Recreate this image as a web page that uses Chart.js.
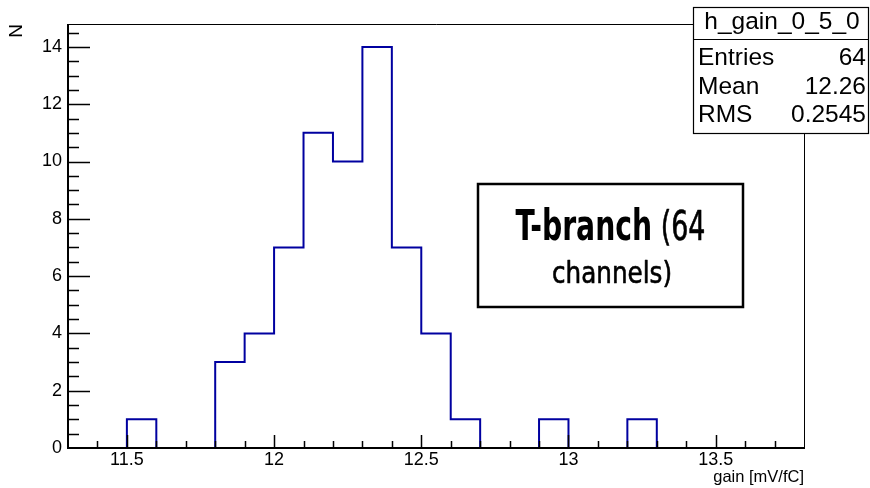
<!DOCTYPE html>
<html>
<head>
<meta charset="utf-8">
<script src="https://cdn.jsdelivr.net/npm/chart.js@4.4.1/dist/chart.umd.min.js"></script>
<style>
  html, body { margin: 0; padding: 0; background: #fff; }
  #wrap { width: 870px; height: 488px; }
</style>
</head>
<body>
<div id="wrap"><canvas id="hist" width="870" height="488"></canvas></div>
<script>
// histogram h_gain_0_5_0 : bin low edges (last one is the upper edge) and counts
var binEdges = [11.3, 11.4, 11.5, 11.6, 11.7, 11.8, 11.9, 12.0, 12.1, 12.2, 12.3, 12.4, 12.5,
                12.6, 12.7, 12.8, 12.9, 13.0, 13.1, 13.2, 13.3, 13.4, 13.5, 13.6, 13.7, 13.8];
var counts   = [0, 0, 1, 0, 0, 3, 4, 7, 11, 10, 14, 7, 4, 1, 0, 0, 1, 0, 0, 1, 0, 0, 0, 0, 0];

var xTicks = [11.5, 12, 12.5, 13, 13.5];
var yTicks = [0, 2, 4, 6, 8, 10, 12, 14];

var statsTitle  = 'h_gain_0_5_0';
var statsLabels = ['Entries', 'Mean', 'RMS'];
var statsValues = ['64', '12.26', '0.2545'];

var noteBold = 'T-branch';
var noteLine1 = ' (64';
var noteLine2 = 'channels)';

var FONT = '"Liberation Sans", Arial, sans-serif';
var NARROW = '"Liberation Sans Narrow", "DejaVu Sans Condensed", "Liberation Sans", sans-serif';
var COND = '"DejaVu Sans Condensed", "DejaVu Sans", sans-serif';

// points for the step outline
var pts = [];
for (var i = 0; i < binEdges.length; i++) {
  pts.push({ x: binEdges[i], y: i < counts.length ? counts[i] : 0 });
}

// ROOT-like frame, inner ticks and the two boxes
var rootPlugin = {
  id: 'rootStyle',
  afterDatasetsDraw: function(chart) {
    var ctx = chart.ctx, a = chart.chartArea;
    var xs = chart.scales.x, ys = chart.scales.y;
    ctx.save();
    ctx.strokeStyle = '#000';

    // minor + major ticks on x
    ctx.lineWidth = 1.5;
    ctx.beginPath();
    for (var k = 1; k < 25; k++) {
      var v = 11.3 + k * 0.1;
      var px = Math.round(xs.getPixelForValue(v)) + 0.5;
      var major = xTicks.some(function(t) { return Math.abs(t - v) < 1e-6; });
      ctx.moveTo(px, a.bottom);
      ctx.lineTo(px, a.bottom - (major ? 13 : 7));
    }
    // y ticks
    for (var m = 1; m < 30; m++) {
      var yv = m * 0.5;
      var py = Math.round(ys.getPixelForValue(yv)) + 0.5;
      var ymaj = (m % 4 === 0);
      ctx.moveTo(a.left, py);
      ctx.lineTo(a.left + (ymaj ? 22 : 11), py);
    }
    ctx.stroke();

    // frame: thin top/right, thick axes
    ctx.lineWidth = 1;
    ctx.beginPath();
    ctx.moveTo(a.left, a.top + 0.5);
    ctx.lineTo(a.right + 0.5, a.top + 0.5);
    ctx.lineTo(a.right + 0.5, a.bottom);
    ctx.stroke();
    ctx.lineWidth = 2;
    ctx.beginPath();
    ctx.moveTo(a.left, a.top);
    ctx.lineTo(a.left, a.bottom);
    ctx.lineTo(a.right + 1, a.bottom);
    ctx.stroke();

    // stats box
    var bx = 693.5, by = 7.5, bw = 175, bh = 126;
    ctx.fillStyle = '#fff';
    ctx.fillRect(bx, by, bw, bh);
    ctx.lineWidth = 1.2;
    ctx.strokeRect(bx, by, bw, bh);
    ctx.beginPath();
    ctx.moveTo(bx, 39.5);
    ctx.lineTo(bx + bw, 39.5);
    ctx.stroke();
    ctx.fillStyle = '#000';
    ctx.font = '24.5px ' + FONT;
    ctx.textBaseline = 'alphabetic';
    ctx.textAlign = 'center';
    ctx.fillText(statsTitle, bx + bw / 2 + 1, 29);
    for (var s = 0; s < statsLabels.length; s++) {
      var by2 = 65 + s * 28.5;
      ctx.textAlign = 'left';
      ctx.fillText(statsLabels[s], 698, by2);
      ctx.textAlign = 'right';
      ctx.fillText(statsValues[s], 866, by2);
    }

    // note box
    ctx.lineWidth = 2.5;
    ctx.fillStyle = '#fff';
    ctx.fillRect(478, 184, 265, 123);
    ctx.strokeRect(478, 184, 265, 123);
    ctx.fillStyle = '#000';
    ctx.textAlign = 'left';
    ctx.lineJoin = 'round';
    var cx = 610.5;
    // line 1 : bold part + regular part, squeezed to width
    ctx.font = 'bold 42px ' + NARROW;
    var wb = ctx.measureText(noteBold).width;
    ctx.font = '40px ' + COND;
    var wr = ctx.measureText(noteLine1).width;
    var sc1 = 190 / (wb + wr);
    ctx.save();
    ctx.translate(cx - 95, 240);
    ctx.scale(sc1, 1);
    ctx.font = 'bold 42px ' + NARROW;
    ctx.fillText(noteBold, 0, 0);
    ctx.font = '40px ' + COND;
    ctx.fillText(noteLine1, wb, 0);
    ctx.lineWidth = 0.6;
    ctx.strokeText(noteLine1, wb, 0);
    ctx.restore();
    // line 2
    ctx.font = '31px ' + COND;
    var w2 = ctx.measureText(noteLine2).width;
    var sc2 = 120 / w2;
    ctx.save();
    ctx.translate(cx + 1.5 - 60, 283);
    ctx.scale(sc2, 1);
    ctx.fillText(noteLine2, 0, 0);
    ctx.lineWidth = 0.6;
    ctx.strokeText(noteLine2, 0, 0);
    ctx.restore();

    ctx.restore();
  }
};

new Chart(document.getElementById('hist'), {
  type: 'line',
  data: {
    datasets: [{
      label: statsTitle,
      data: pts,
      stepped: true,
      borderColor: '#0000a0',
      borderWidth: 2,
      pointRadius: 0,
      fill: false,
      tension: 0
    }]
  },
  options: {
    responsive: false,
    animation: false,
    layout: { padding: { top: 24, right: 66, left: 0, bottom: 0 } },
    plugins: { legend: { display: false }, tooltip: { enabled: false } },
    scales: {
      x: {
        type: 'linear',
        min: 11.3,
        max: 13.8,
        grid: { display: false, drawTicks: false },
        border: { display: false },
        afterFit: function(sc) { sc.height = 40; },
        afterBuildTicks: function(sc) { sc.ticks = xTicks.map(function(v) { return { value: v }; }); },
        ticks: {
          padding: 1,
          color: '#000',
          font: { family: FONT, size: 18 },
          maxRotation: 0,
          callback: function(v) { return String(v); }
        },
        title: {
          display: true,
          text: 'gain [mV/fC]',
          align: 'end',
          color: '#000',
          font: { family: FONT, size: 16.5 },
          padding: { top: 0, bottom: 1 }
        }
      },
      y: {
        min: 0,
        max: 14.8,
        grid: { display: false, drawTicks: false },
        border: { display: false },
        afterFit: function(sc) { sc.width = 68; },
        afterBuildTicks: function(sc) { sc.ticks = yTicks.map(function(v) { return { value: v }; }); },
        ticks: {
          padding: 6,
          color: '#000',
          font: { family: FONT, size: 18 },
          callback: function(v) { return String(v); }
        },
        title: {
          display: true,
          text: 'N',
          align: 'end',
          color: '#000',
          font: { family: FONT, size: 19 },
          padding: { top: 5, bottom: 0 }
        }
      }
    }
  },
  plugins: [rootPlugin]
});
</script>
</body>
</html>
